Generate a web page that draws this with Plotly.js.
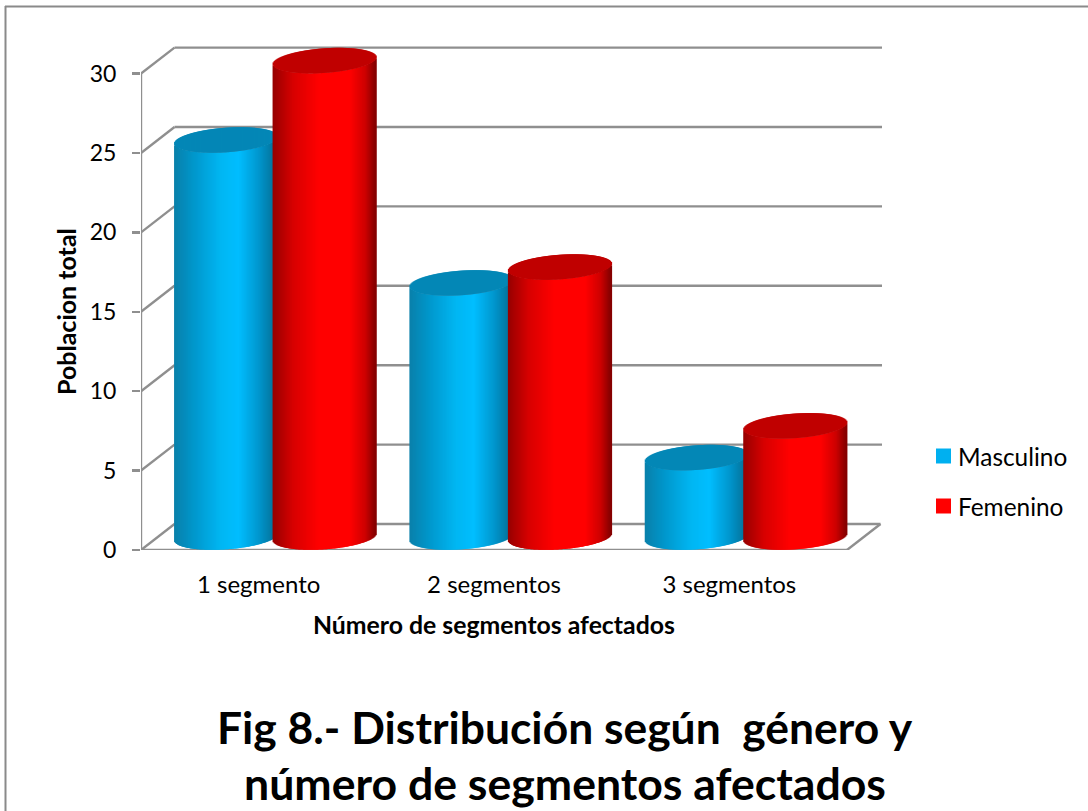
<!DOCTYPE html>
<html>
<head>
<meta charset="utf-8">
<script src="https://cdn.plot.ly/plotly-3.0.1.min.js"></script>
<style>html,body{margin:0;padding:0;background:#fff}#chart{width:1088px;height:811px}</style>
</head>
<body>
<div id="chart"></div>
<script>
// Values per category
const categories = ['1 segmento', '2 segmentos', '3 segmentos'];
const masculino = [25, 16, 5];
const femenino = [30, 17, 7];
const yTicks = [0, 5, 10, 15, 20, 25, 30];

const fontFamily = 'Lato, "Open Sans", sans-serif';
const W = 1088, H = 811;
const plot = {l: 141, r: 882, t: 40, b: 550};
const pxPerCat = 235.33, pxPerUnit = 15.88;
const xMin = 0.5, xMax = xMin + (plot.r - plot.l) / pxPerCat;
const yMax = (plot.b - plot.t) / pxPerUnit;

// Depth of the pseudo-3D box, in axis units
const depthX = 33.5 / pxPerCat, depthY = 26 / pxPerUnit;
const wallRight = 3.5;
const gridColor = '#8f8f8f';

// Cylinder geometry in axis units
const cyl = {
  halfWidth: 51.5 / pxPerCat,
  strips: 103,
  lift: 13 / pxPerUnit,
  capHalf: 12.3 / pxPerUnit,
  tilt: 3.5 / pxPerUnit
};
const offsets = {masc: -32.5 / pxPerCat, fem: 66 / pxPerCat};

const shades = {
  masc: {stops: [[-1, [10, 128, 170]], [-0.6, [0, 152, 205]], [-0.1, [0, 182, 242]], [0.25, [0, 190, 255]], [0.65, [0, 150, 205]], [1, [6, 108, 145]]], cap: '#0487b6'},
  fem: {stops: [[-1, [150, 0, 0]], [-0.6, [215, 0, 0]], [-0.1, [255, 0, 0]], [0.5, [255, 0, 0]], [0.8, [205, 0, 0]], [1, [130, 0, 0]]], cap: '#c00000'}
};

function shadeAt(stops, u) {
  for (let i = 1; i < stops.length; i++) {
    if (u <= stops[i][0]) {
      const [u0, c0] = stops[i - 1], [u1, c1] = stops[i];
      const f = (u - u0) / (u1 - u0);
      return 'rgb(' + c0.map((c, k) => Math.round(c + (c1[k] - c) * f)).join(',') + ')';
    }
  }
  return 'rgb(' + stops[stops.length - 1][1].join(',') + ')';
}

// Each cylinder is a row of thin floating bars: one set for the side, one for the cap.
// Neighbouring strips overlap so no background shows between them.
function cylinderTraces(values, key, name) {
  const side = {x: [], y: [], base: [], color: []};
  const cap = {x: [], y: [], base: [], color: []};
  const stripWidth = 2 * cyl.halfWidth / cyl.strips;
  values.forEach((v, i) => {
    const cx = i + 1 + offsets[key];
    for (let s = 0; s < cyl.strips; s++) {
      const u = -1 + (s + 0.5) * 2 / cyl.strips;
      const arc = cyl.capHalf * Math.sqrt(1 - u * u);
      const slope = cyl.tilt * u;
      const bottom = cyl.lift + slope - arc;
      const front = v + cyl.lift + slope - arc;
      const back = v + cyl.lift + slope + arc;
      const x = cx + u * cyl.halfWidth;
      side.x.push(x); side.base.push(bottom); side.y.push(front - bottom);
      side.color.push(shadeAt(shades[key].stops, u));
      cap.x.push(x); cap.base.push(front); cap.y.push(back - front);
      cap.color.push(shades[key].cap);
    }
  });
  const bar = (d, label) => ({
    type: 'bar', name: label, x: d.x, y: d.y, base: d.base,
    width: stripWidth * 2.2,
    marker: {color: d.color, opacity: 1, line: {width: 0}},
    hoverinfo: 'skip', showlegend: false
  });
  return [bar(side, name), bar(cap, name + ' (tapa)')];
}

const traces = [
  ...cylinderTraces(masculino, 'masc', 'Masculino'),
  ...cylinderTraces(femenino, 'fem', 'Femenino')
];

// Back wall grid, slanted joints and front axis lines, all placed on the data axes
const gridSegment = (x0, y0, x1, y1) => ({
  type: 'line', xref: 'x', yref: 'y', layer: 'below', x0, y0, x1, y1,
  line: {color: gridColor, width: 2.4}
});
const gridShapes = [];
yTicks.forEach(t => {
  if (t === 0) {
    gridShapes.push(gridSegment(xMin, t, wallRight, t));
    gridShapes.push(gridSegment(wallRight, t, wallRight + depthX, t + depthY));
    gridShapes.push(gridSegment(xMin + depthX, t + depthY, wallRight + depthX, t + depthY));
  } else {
    gridShapes.push(gridSegment(xMin + depthX, t + depthY, xMax, t + depthY));
  }
  gridShapes.push(gridSegment(xMin, t, xMin + depthX, t + depthY));
});
gridShapes.push(gridSegment(xMin, yTicks[0], xMin, yTicks[yTicks.length - 1]));

// Helpers to place page-level decoration in plot paper coordinates
const paperX = px => (px - plot.l) / (plot.r - plot.l);
const paperY = py => (plot.b - py) / (plot.b - plot.t);

const frameLine = (x0, y0, x1, y1) => ({
  type: 'line', xref: 'paper', yref: 'paper', layer: 'below',
  x0: paperX(x0), y0: paperY(y0), x1: paperX(x1), y1: paperY(y1),
  line: {color: '#8a8a8a', width: 2}
});
const swatch = (y, color) => ({
  type: 'rect', xref: 'paper', yref: 'paper',
  x0: paperX(936), x1: paperX(951), y0: paperY(y - 7.5), y1: paperY(y + 7.5),
  fillcolor: color, line: {width: 0}
});
const label = (text, px, py, size, extra) => Object.assign({
  text, xref: 'paper', yref: 'paper', x: paperX(px), y: paperY(py),
  xanchor: 'center', yanchor: 'middle',
  showarrow: false, font: {family: fontFamily, size, color: '#000'}
}, extra || {});

const layout = {
  width: W, height: H,
  margin: {l: plot.l, r: W - plot.r, t: plot.t, b: H - plot.b, pad: 0},
  paper_bgcolor: '#fff', plot_bgcolor: 'rgba(0,0,0,0)',
  showlegend: false,
  barmode: 'overlay',
  xaxis: {
    range: [xMin, xMax], tickmode: 'array', tickvals: [1, 2, 3], ticktext: categories,
    showgrid: false, zeroline: false, showline: false, ticks: '',
    ticklabelstandoff: 18,
    tickfont: {family: fontFamily, size: 24, color: '#000'}
  },
  yaxis: {
    range: [0, yMax], tickmode: 'array', tickvals: yTicks,
    showgrid: false, zeroline: false, showline: false,
    ticks: 'outside', ticklen: 8, tickwidth: 2.4, tickcolor: gridColor,
    ticklabelstandoff: 11,
    tickfont: {family: fontFamily, size: 23, color: '#000'}
  },
  shapes: [
    frameLine(5.5, 6, 5.5, 811), frameLine(5, 6.5, 1088, 6.5),
    ...gridShapes,
    swatch(456, '#00B0F0'), swatch(506, '#FF0000')
  ],
  annotations: [
    label('Masculino', 956, 456, 24.4, {xanchor: 'left'}),
    label('Femenino', 956, 506, 24.4, {xanchor: 'left'}),
    label('<b>Poblacion total</b>', 66, 312, 25, {textangle: -90}),
    label('<b>Número de segmentos afectados</b>', 494, 624, 24.8),
    label('<b>Fig 8.- Distribución según \u00a0género y</b>', 565, 726, 44.4),
    label('<b>número de segmentos afectados</b>', 565, 782, 44.6)
  ]
};

Plotly.newPlot('chart', traces, layout, {displayModeBar: false, staticPlot: true});
</script>
</body>
</html>
